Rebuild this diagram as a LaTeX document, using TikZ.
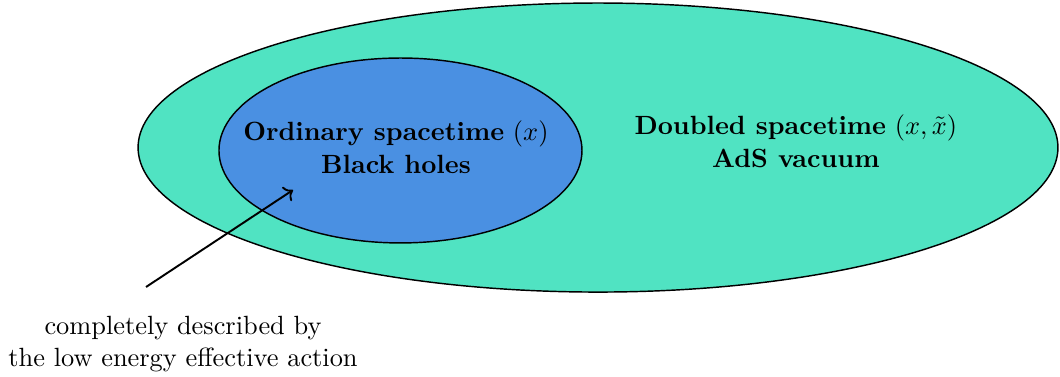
\documentclass[tikz,border=0pt]{standalone}
\usetikzlibrary{shapes.geometric, arrows.meta, positioning}
\definecolor{outerteal}{HTML}{50E3C2}
\definecolor{innerblue}{HTML}{4A90E2}
\tikzset{
  % regione (ellisse)
  region/.style={ellipse, draw=black, semithick, inner sep=0pt},
  % etichette
  lbl/.style={align=center, font=\fontsize{10.95}{13.6}\selectfont},
}

\begin{document}
\begin{tikzpicture}
  \useasboundingbox (0,0) rectangle (15.476,-5.504);
  \node[region, fill=outerteal, minimum width=13.43cm, minimum height=4.22cm] (doubled) at (8.731,-2.154) {};
  \node[region, fill=innerblue, minimum width=5.30cm, minimum height=2.70cm] (ordinary) at (5.847,-2.197) {};
  \node[lbl] (ordtext) at (5.78,-2.15) {\textbf{Ordinary spacetime} $(x)$\\ \textbf{Black holes}};
  \node[lbl] (dbltext) at (11.62,-2.06) {\textbf{Doubled spacetime} $(x,\tilde{x})$\\ \textbf{AdS vacuum}};
  \node[lbl] (effaction) at (2.672,-5.023) {completely described by\\ the low energy effective action};
  \coordinate (arrstart) at (2.132,-4.190);
  \coordinate (arrtip) at (4.278,-2.774);
  \draw[->, thick] (arrstart) -- (arrtip);
\end{tikzpicture}
\end{document}
